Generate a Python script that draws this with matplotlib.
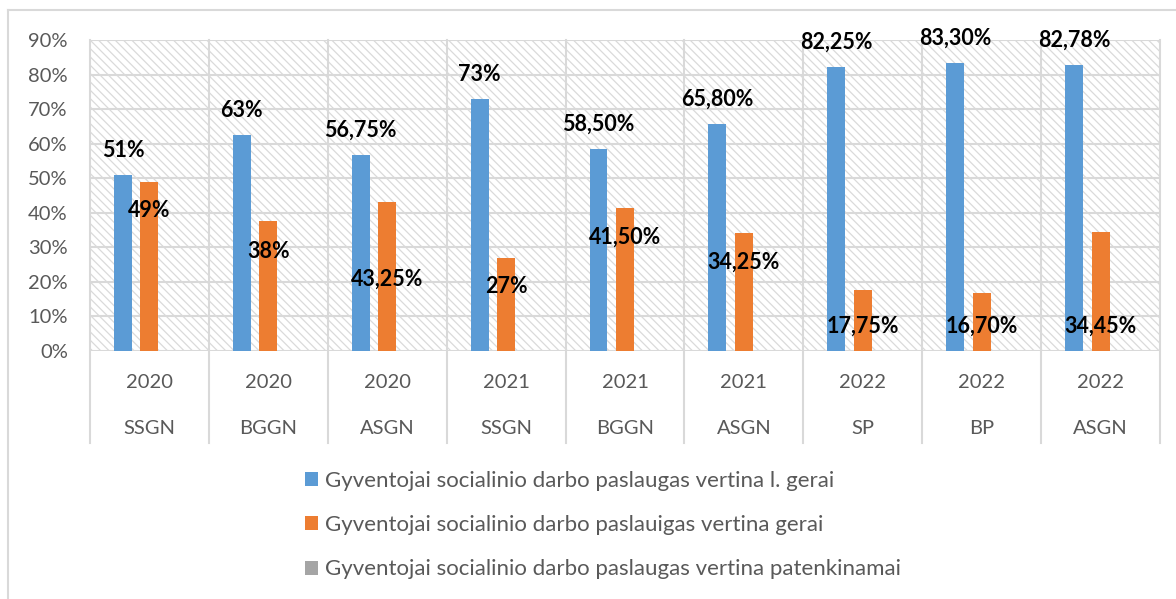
import numpy as np
import matplotlib.pyplot as plt
from matplotlib.patches import Rectangle
from matplotlib.lines import Line2D

plt.rcParams['font.family'] = ['Lato', 'DejaVu Sans']
plt.rcParams['hatch.linewidth'] = 0.9

# data
years = ['2020', '2020', '2020', '2021', '2021', '2021', '2022', '2022', '2022']
groups = ['SSGN', 'BGGN', 'ASGN', 'SSGN', 'BGGN', 'ASGN', 'SP', 'BP', 'ASGN']
labai_gerai = [51, 62.5, 56.75, 73, 58.5, 65.8, 82.25, 83.3, 82.78]
gerai = [49, 37.5, 43.25, 27, 41.5, 34.25, 17.75, 16.7, 34.45]
patenkinamai = [0, 0, 0, 0, 0, 0, 0, 0, 0]
labai_gerai_txt = ['51%', '63%', '56,75%', '73%', '58,50%', '65,80%', '82,25%', '83,30%', '82,78%']
gerai_txt = ['49%', '38%', '43,25%', '27%', '41,50%', '34,25%', '17,75%', '16,70%', '34,45%']
series_names = ['Gyventojai socialinio darbo paslaugas vertina l. gerai',
                'Gyventojai socialinio darbo paslauigas vertina gerai',
                'Gyventojai socialinio darbo paslaugas vertina patenkinamai']

# where the orange labels sit (placed by hand in the original)
gerai_lbl_y = [40.6, 28.9, 20.9, 18.7, 32.9, 25.7, 7.1, 7.1, 7.1]

BLUE, ORANGE, GREY = '#5B9BD5', '#ED7D31', '#A5A5A5'
GRID = '#D9D9D9'
TXT = '#595959'
W, H = 1176, 599

fig = plt.figure(figsize=(W / 100, H / 100), dpi=100)
ax = fig.add_axes([90 / W, 1 - 351 / H, (1160 - 90) / W, (351 - 40) / H])

# hatched plot area
ax.add_patch(Rectangle((0, 0), 1, 1, transform=ax.transAxes, facecolor='white',
                       edgecolor='#DADADA', linewidth=0, hatch='\\\\\\\\', zorder=0))

x = np.arange(len(years)) + 0.5
bw = 0.151
off = 0.223
b1 = ax.bar(x - off, labai_gerai, bw, color=BLUE, zorder=3, label=series_names[0])
b2 = ax.bar(x, gerai, bw, color=ORANGE, zorder=3, label=series_names[1])
b3 = ax.bar(x + off, patenkinamai, bw, color=GREY, zorder=3, label=series_names[2])

for i in range(len(x)):
    ax.text(x[i] - off, labai_gerai[i] + 7.1, labai_gerai_txt[i], ha='center', va='center',
            fontsize=15.5, fontweight='bold', color='black', zorder=5)
    ax.text(x[i], gerai_lbl_y[i], gerai_txt[i], ha='center', va='center',
            fontsize=15.5, fontweight='bold', color='black', zorder=5)

ax.set_xlim(0, len(years))
ax.set_ylim(0, 90)
ax.set_yticks(np.arange(0, 91, 10))
ax.set_yticklabels([f'{v}%' for v in range(0, 91, 10)])
ax.tick_params(axis='y', length=0, pad=16, labelsize=14.5, labelcolor=TXT)
ax.set_xticks([])
for s in ax.spines.values():
    s.set_visible(False)

for v in range(0, 91, 10):
    ax.axhline(v, color=GRID, lw=1.5, zorder=1)

# category separators run down through the two label rows
trans = ax.get_xaxis_transform()
for b in range(len(years) + 1):
    ax.add_line(Line2D([b, b], [-(443 - 351) / 311, 1], transform=trans, color=GRID,
                       lw=1.5, clip_on=False, zorder=1))

for i in range(len(x)):
    ax.text(x[i], -(383 - 351) / 311, years[i], transform=trans, ha='center', va='center',
            fontsize=14.5, color=TXT)
    ax.text(x[i], -(428 - 351) / 311, groups[i], transform=trans, ha='center', va='center',
            fontsize=14.5, color=TXT)

# outer chart frame (only top and left are visible in the crop)
fig.add_artist(Line2D([8 / W, 1], [1 - 10 / H, 1 - 10 / H], transform=fig.transFigure,
                      color=GRID, lw=1.5))
fig.add_artist(Line2D([8 / W, 8 / W], [0, 1 - 10 / H], transform=fig.transFigure,
                      color=GRID, lw=1.5))

fig.legend(handles=[b1, b2, b3], loc='center left', bbox_to_anchor=(305 / W, 1 - 525 / H),
           frameon=False, fontsize=16, labelcolor=TXT, handlelength=0.6, handleheight=0.6,
           handletextpad=0.3, labelspacing=1.1, borderpad=0, borderaxespad=0)

fig.savefig('out.png', dpi=100)
